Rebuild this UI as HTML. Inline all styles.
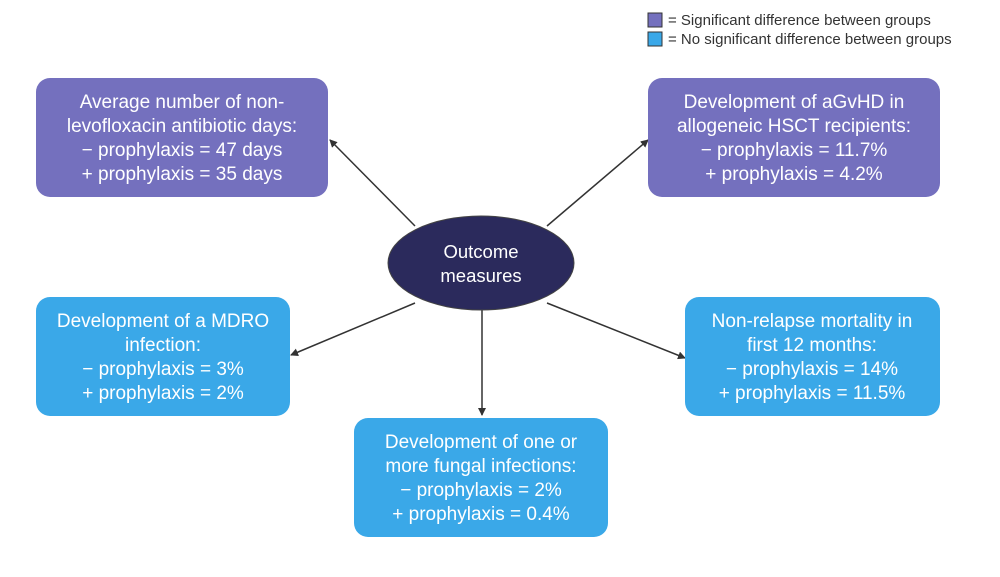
<!DOCTYPE html>
<html><head><meta charset="utf-8"><style>
body{margin:0;background:#fff}
text{font-family:"Liberation Sans",sans-serif}
</style></head><body>
<svg width="1000" height="572" viewBox="0 0 1000 572" xmlns="http://www.w3.org/2000/svg">
<defs><marker id="a" markerWidth="8" markerHeight="8" refX="7" refY="4" orient="auto" markerUnits="userSpaceOnUse"><path d="M0,0 L8,4 L0,8 z" fill="#333"/></marker></defs>
<rect x="648" y="13" width="14" height="14" fill="#7470be" stroke="#333" stroke-width="1"/>
<rect x="648" y="32" width="14" height="14" fill="#3aa8e8" stroke="#333" stroke-width="1"/>
<text x="668" y="25" font-size="15" fill="#333">= Significant difference between groups</text>
<text x="668" y="44" font-size="15" fill="#333">= No significant difference between groups</text>
<g stroke="#333" stroke-width="1.5" marker-end="url(#a)">
<line x1="415" y1="226" x2="330" y2="140"/>
<line x1="547" y1="226" x2="648" y2="140"/>
<line x1="415" y1="303" x2="291" y2="355"/>
<line x1="482" y1="310" x2="482" y2="415"/>
<line x1="547" y1="303" x2="685" y2="358"/>
</g>
<ellipse cx="481" cy="263" rx="93" ry="47" fill="#2b2a5c" stroke="#444" stroke-width="1"/>
<text x="481" y="258" font-size="18.5" fill="#fff" text-anchor="middle">Outcome</text>
<text x="481" y="282" font-size="18.5" fill="#fff" text-anchor="middle">measures</text>
<g font-size="19" fill="#fff" text-anchor="middle">
<rect x="36" y="78" width="292" height="119" rx="14" fill="#7470be"/>
<text x="182" y="108">Average number of non-</text>
<text x="182" y="132">levofloxacin antibiotic  days:</text>
<text x="182" y="156">− prophylaxis = 47 days</text>
<text x="182" y="180">+ prophylaxis = 35 days</text>
<rect x="648" y="78" width="292" height="119" rx="14" fill="#7470be"/>
<text x="794" y="108">Development of aGvHD in</text>
<text x="794" y="132">allogeneic HSCT recipients:</text>
<text x="794" y="156">− prophylaxis = 11.7%</text>
<text x="794" y="180">+ prophylaxis = 4.2%</text>
<rect x="36" y="297" width="254" height="119" rx="14" fill="#3aa8e8"/>
<text x="163" y="327">Development of a MDRO</text>
<text x="163" y="351">infection:</text>
<text x="163" y="375">− prophylaxis = 3%</text>
<text x="163" y="399">+ prophylaxis = 2%</text>
<rect x="685" y="297" width="255" height="119" rx="14" fill="#3aa8e8"/>
<text x="812" y="327">Non-relapse mortality in</text>
<text x="812" y="351">first 12 months:</text>
<text x="812" y="375">− prophylaxis = 14%</text>
<text x="812" y="399">+ prophylaxis = 11.5%</text>
<rect x="354" y="418" width="254" height="119" rx="14" fill="#3aa8e8"/>
<text x="481" y="448">Development of one or</text>
<text x="481" y="472">more fungal infections:</text>
<text x="481" y="496">− prophylaxis = 2%</text>
<text x="481" y="520">+ prophylaxis = 0.4%</text>
</g>
</svg>
</body></html>
